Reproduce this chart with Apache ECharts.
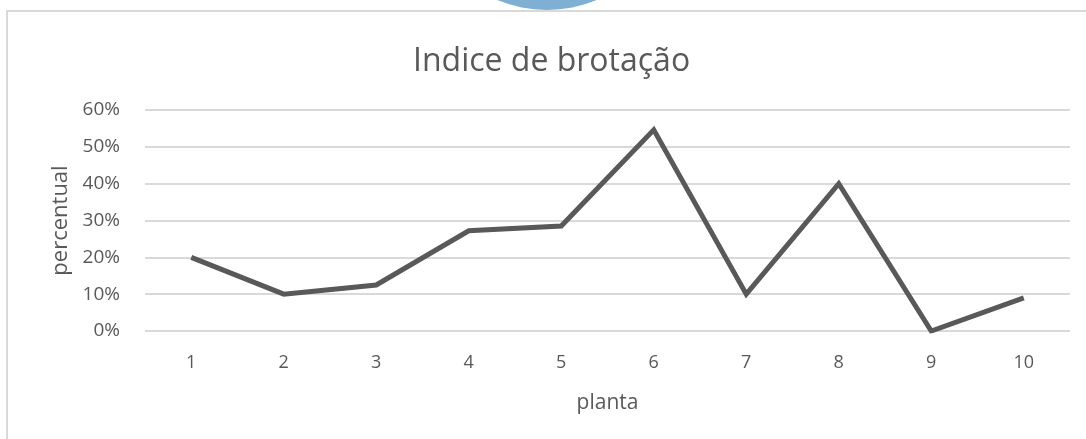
<!DOCTYPE html>
<html>
<head>
<meta charset="utf-8">
<script src="https://cdn.jsdelivr.net/npm/echarts@6/dist/echarts.min.js"></script>
<style>html,body{margin:0;padding:0;background:#fff}#c{width:1086px;height:439px}</style>
</head>
<body>
<div id="c"></div>
<script>
var categories = ['1','2','3','4','5','6','7','8','9','10'];
var values = [0.20, 0.10, 0.125, 0.272, 0.285, 0.546, 0.10, 0.40, 0.0, 0.09];
var titleText = 'Indice de brotação';
var xName = 'planta';
var yName = 'percentual';

var chart = echarts.init(document.getElementById('c'), null, {renderer: 'canvas'});
var FONT = 'Open Sans';
chart.setOption({
  animation: false,
  backgroundColor: '#fff',
  title: {
    text: titleText, left: 408, top: 41,
    textStyle: {fontFamily: FONT, fontSize: 32, fontWeight: 'normal', color: '#595959'}
  },
  graphic: [
    {type: 'circle', shape: {cx: 547, cy: -120, r: 130}, style: {fill: '#7FAFD3'}, z: 100},
    {type: 'rect', shape: {x: 7, y: 11, width: 1100, height: 500}, style: {fill: 'none', stroke: '#d9d9d9', lineWidth: 2}, z: 0}
  ],
  grid: {left: 145, right: 16, top: 110, bottom: 108, containLabel: false},
  xAxis: {
    type: 'category', data: categories, boundaryGap: true,
    axisLine: {show: false}, axisTick: {show: false},
    axisLabel: {color: '#595959', fontFamily: FONT, fontSize: 18, margin: 23},
    name: xName, nameLocation: 'middle', nameGap: 62,
    nameTextStyle: {color: '#595959', fontFamily: FONT, fontSize: 21}
  },
  yAxis: {
    type: 'value', min: 0, max: 0.6, interval: 0.1,
    axisLine: {show: false}, axisTick: {show: false},
    splitLine: {lineStyle: {color: '#d9d9d9', width: 2}},
    axisLabel: {color: '#595959', fontFamily: FONT, fontSize: 19, margin: 25,
      formatter: function (v) { return Math.round(v * 100) + '%'; }},
    name: yName, nameLocation: 'middle', nameGap: 72, nameRotate: 90,
    nameTextStyle: {color: '#595959', fontFamily: FONT, fontSize: 22}
  },
  series: [{
    type: 'line', data: values, showSymbol: false, symbol: 'none',
    lineStyle: {color: '#595959', width: 5, join: 'miter'},
    itemStyle: {color: '#595959'}
  }]
});
</script>
</body>
</html>
